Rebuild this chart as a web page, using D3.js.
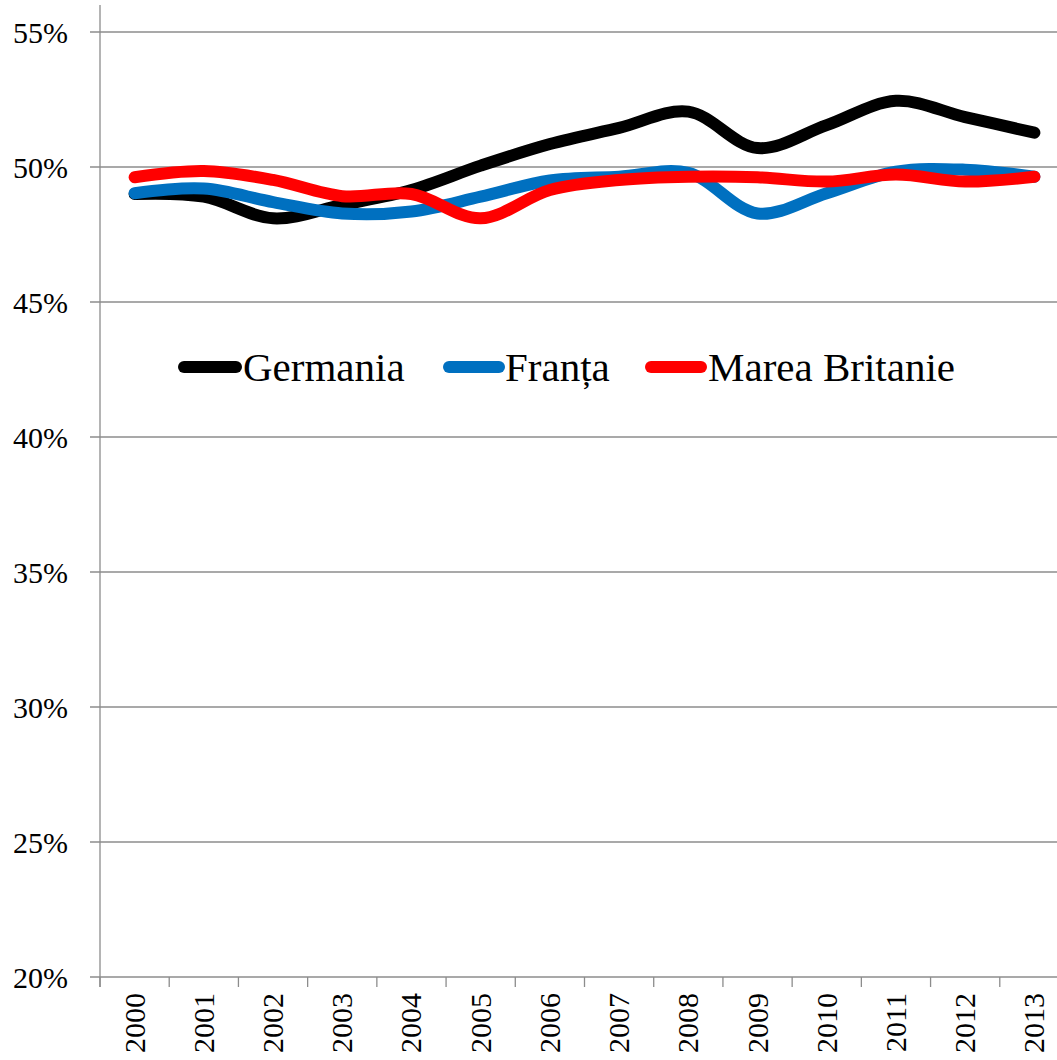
<!DOCTYPE html>
<html>
<head>
<meta charset="utf-8">
<script src="https://cdn.jsdelivr.net/npm/d3@7"></script>
<style>
  html, body { margin: 0; padding: 0; background: #fff; overflow: hidden; }
  #chart { position: relative; width: 1057px; height: 1060px; overflow: hidden; }
  svg { display: block; }
  .xlab { position: absolute; font-family: "Liberation Serif", "Times New Roman", serif; font-size: 30px;
          line-height: 30px; white-space: nowrap; color: #000;
          transform-origin: 0 0; transform: rotate(-90deg) translate(-100%, -50%); }
</style>
</head>
<body>
<div id="chart"></div>
<script>
const years = ["2000","2001","2002","2003","2004","2005","2006","2007","2008","2009","2010","2011","2012","2013"];
const germania = [49.0, 48.9, 48.1, 48.6, 49.15, 50.05, 50.85, 51.45, 52.05, 50.7, 51.55, 52.45, 51.85, 51.27];
const franta = [49.03, 49.2, 48.7, 48.28, 48.35, 48.9, 49.5, 49.64, 49.78, 48.28, 49.03, 49.83, 49.9, 49.64];
const mareaBritanie = [49.62, 49.85, 49.52, 48.92, 49.0, 48.1, 49.15, 49.52, 49.64, 49.62, 49.46, 49.72, 49.46, 49.64];
const yTicks = [20, 25, 30, 35, 40, 45, 50, 55];
const seriesNames = ["Germania", "Franța", "Marea Britanie"];
const seriesColors = ["#000000", "#0070C0", "#FF0000"];

const FONT = "Liberation Serif";
const W = 1057, H = 1060;
const chart = d3.select("#chart");
const svg = chart.append("svg").attr("width", W).attr("height", H);

const x = d3.scalePoint().domain(years).range([100, 1069]).padding(0.5);
const y = d3.scaleLinear().domain([20, 55]).range([977, 32]);

// gridlines
svg.append("g").selectAll("line").data(yTicks).join("line")
  .attr("x1", 90).attr("x2", W)
  .attr("y1", d => y(d)).attr("y2", d => y(d))
  .attr("stroke", "#8c8c8c").attr("stroke-width", 1.3);

// y axis line
svg.append("line").attr("x1", 100).attr("x2", 100).attr("y1", 5).attr("y2", 987)
  .attr("stroke", "#8c8c8c").attr("stroke-width", 1.3);

// y labels
svg.append("g").selectAll("text").data(yTicks).join("text")
  .attr("x", 68).attr("y", d => y(d)).attr("dy", "0.35em")
  .attr("text-anchor", "end")
  .attr("font-family", FONT)
  .attr("font-size", 30).attr("fill", "#000")
  .text(d => d + "%");

// x ticks at band boundaries
const step = x.step();
const boundaries = d3.range(years.length + 1).map(i => 100 + i * step);
svg.append("g").selectAll("line").data(boundaries).join("line")
  .attr("x1", d => d).attr("x2", d => d)
  .attr("y1", 977).attr("y2", 987)
  .attr("stroke", "#8c8c8c").attr("stroke-width", 1.3);

// x labels rotated (HTML so the serif face renders cleanly)
chart.selectAll("div.xlab").data(years).join("div")
  .attr("class", "xlab")
  .style("left", d => x(d) + "px")
  .style("top", "993px")
  .text(d => d);

// lines
const allSeries = [germania, franta, mareaBritanie];
const line = d3.line()
  .x((d, i) => x(years[i]))
  .y(d => y(d))
  .curve(d3.curveCatmullRom.alpha(0.5));

allSeries.forEach((s, k) => {
  svg.append("path").datum(s)
    .attr("d", line)
    .attr("fill", "none")
    .attr("stroke", seriesColors[k])
    .attr("stroke-width", 12)
    .attr("stroke-linecap", "round")
    .attr("stroke-linejoin", "round");
});

// legend
const legendItems = [
  { x1: 184, x2: 236, tx: 243 },
  { x1: 449, x2: 499, tx: 505 },
  { x1: 651, x2: 701, tx: 708 }
];
const lg = svg.append("g");
seriesNames.forEach((name, k) => {
  const it = legendItems[k];
  lg.append("line")
    .attr("x1", it.x1).attr("x2", it.x2).attr("y1", 367).attr("y2", 367)
    .attr("stroke", seriesColors[k]).attr("stroke-width", 12)
    .attr("stroke-linecap", "round");
  lg.append("text")
    .attr("x", it.tx).attr("y", 381)
    .attr("font-family", FONT)
    .attr("font-size", 41).attr("fill", "#000")
    .text(name);
});
</script>
</body>
</html>
